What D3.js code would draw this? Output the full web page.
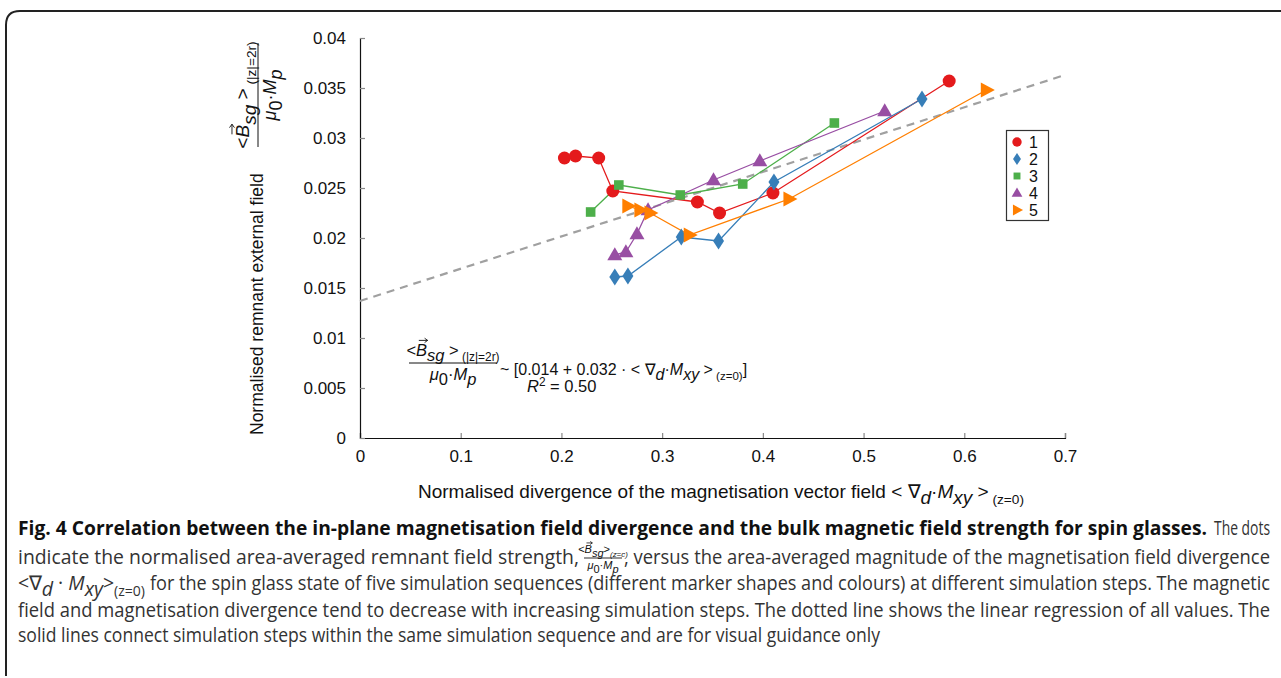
<!DOCTYPE html>
<html><head><meta charset="utf-8">
<script src="https://cdn.jsdelivr.net/npm/d3@7"></script>
<style>
html,body{margin:0;padding:0;background:#fff;}
svg{display:block;}
</style></head>
<body>
<svg id="c" width="1281" height="678"></svg>
<script>
// ---------------- DATA ----------------
const seriesNames = ["1","2","3","4","5"];
const s1x = [0.203,0.214,0.237,0.251,0.335,0.357,0.410,0.585];
const s1y = [0.0280,0.0282,0.0280,0.0247,0.0236,0.0225,0.0245,0.0357];
const s2x = [0.253,0.266,0.319,0.356,0.411,0.558];
const s2y = [0.0161,0.0162,0.0201,0.0197,0.0256,0.0339];
const s3x = [0.229,0.257,0.318,0.380,0.471];
const s3y = [0.0226,0.0253,0.0243,0.0254,0.0315];
const s4x = [0.253,0.264,0.275,0.286,0.351,0.397,0.521];
const s4y = [0.0183,0.0186,0.0204,0.0228,0.0258,0.0277,0.0327];
const s5x = [0.266,0.278,0.288,0.327,0.426,0.622];
const s5y = [0.0232,0.0228,0.0225,0.0203,0.0239,0.0348];
const regX = [0, 0.7];
const regY = [0.0137, 0.0363];
const xTicks = [0,0.1,0.2,0.3,0.4,0.5,0.6,0.7];
const xTickLabels = ["0","0.1","0.2","0.3","0.4","0.5","0.6","0.7"];
const yTicks = [0,0.005,0.01,0.015,0.02,0.025,0.03,0.035,0.04];
const yTickLabels = ["0","0.005","0.01","0.015","0.02","0.025","0.03","0.035","0.04"];
const colors = ["#e41a1c","#377eb8","#4daf4a","#984ea3","#ff7f00"];

// ---------------- SETUP ----------------
const svg = d3.select("#c");
const FONT = "'Liberation Sans', Arial, Helvetica, sans-serif";
const x = d3.scaleLinear().domain([0,0.7]).range([360,1065]);
const y = d3.scaleLinear().domain([0,0.04]).range([438,38]);

// frame
svg.append("path")
  .attr("d","M6,676 L6,25 Q6,11 20,11 L1281,11")
  .attr("fill","none").attr("stroke","#222").attr("stroke-width",2);

// axes
const gx = svg.append("g").attr("transform","translate(0,438)")
  .call(d3.axisBottom(x).tickValues(xTicks).tickSize(-5).tickPadding(12)
    .tickFormat((d,i)=>xTickLabels[i]));
const gy = svg.append("g").attr("transform","translate(360,0)")
  .call(d3.axisLeft(y).tickValues(yTicks).tickSize(-5).tickPadding(14)
    .tickFormat((d,i)=>yTickLabels[i]));
[gx,gy].forEach(g=>{
  g.select(".domain").attr("stroke","#111").attr("stroke-width",1.2);
  g.selectAll(".tick line").attr("stroke","#888").attr("stroke-width",1.2);
  g.selectAll(".tick text").attr("font-family",FONT).attr("font-size",17).attr("fill","#111");
});

// regression line
svg.append("path")
  .datum(regX.map((d,i)=>[d,regY[i]]))
  .attr("d", d3.line().x(d=>x(d[0])).y(d=>y(d[1])))
  .attr("fill","none").attr("stroke","#a0a0a0").attr("stroke-width",2.2)
  .attr("stroke-dasharray","8,6");

// series
const series = [[s1x,s1y],[s2x,s2y],[s3x,s3y],[s4x,s4y],[s5x,s5y]];
const line = d3.line().x(d=>x(d[0])).y(d=>y(d[1]));
series.forEach((s,k)=>{
  const pts = s[0].map((v,i)=>[v,s[1][i]]);
  svg.append("path").datum(pts).attr("d",line)
    .attr("fill","none").attr("stroke",colors[k]).attr("stroke-width",1.3);
});

function marker(g, k, cx, cy, sc){
  sc = sc||1;
  const c = colors[k];
  if(k===0){
    g.append("circle").attr("cx",cx).attr("cy",cy).attr("r",6.5*sc).attr("fill",c);
  } else if(k===1){
    const w=5.5*sc,h=8.5*sc;
    g.append("path").attr("d",`M${cx},${cy-h}L${cx+w},${cy}L${cx},${cy+h}L${cx-w},${cy}Z`).attr("fill",c);
  } else if(k===2){
    const a=4.8*sc;
    g.append("rect").attr("x",cx-a).attr("y",cy-a).attr("width",2*a).attr("height",2*a).attr("fill",c);
  } else if(k===3){
    const w=7.5*sc,h=13*sc;
    g.append("path").attr("d",`M${cx},${cy-h*0.6}L${cx+w},${cy+h*0.4}L${cx-w},${cy+h*0.4}Z`).attr("fill",c);
  } else {
    const w=14*sc,h=7.5*sc;
    g.append("path").attr("d",`M${cx+w*0.6},${cy}L${cx-w*0.4},${cy-h}L${cx-w*0.4},${cy+h}Z`).attr("fill",c);
  }
}
const gm = svg.append("g");
series.forEach((s,k)=>{
  s[0].forEach((v,i)=> marker(gm,k,x(v),y(s[1][i])));
});

// legend
const lg = svg.append("g");
lg.append("rect").attr("x",1006.5).attr("y",130.5).attr("width",42).attr("height",90)
  .attr("fill","#fff").attr("stroke","#333").attr("stroke-width",1.2);
seriesNames.forEach((n,k)=>{
  const yy = 142 + k*17;
  marker(lg,k,1017,yy,0.72);
  lg.append("text").attr("x",1029).attr("y",yy+5.5).text(n)
    .attr("font-family",FONT).attr("font-size",16).attr("fill","#111");
});

// ---------------- math helpers ----------------
function addParts(t, parts, size){
  let shift = 0;
  parts.forEach(p=>{
    const fs = p.s ? size*0.72 : size;
    const target = p.sub ? size*0.32 : (p.sup ? -size*0.38 : 0);
    const ts = t.append("tspan").text(p.t).attr("font-size",fs);
    if(target!==shift){ ts.attr("dy", target-shift); shift = target; }
    if(p.i) ts.attr("font-style","italic");
  });
}
function arrowOver(g, textNode, idx, size){
  const s = textNode.getStartPositionOfChar(idx);
  const e = textNode.getEndPositionOfChar(idx);
  const x0 = s.x + (e.x-s.x)*0.25, x1 = e.x + (e.x-s.x)*0.05;
  const yy = s.y - size*0.92;
  const ah = Math.max(1.5, size*0.13);
  g.append("path").attr("d",`M${x0},${yy}L${x1},${yy}M${x1-ah*1.4},${yy-ah}L${x1},${yy}L${x1-ah*1.4},${yy+ah}`)
    .attr("fill","none").attr("stroke","#111").attr("stroke-width",Math.min(0.9,size*0.07));
}
function fraction(g, cx, cy, numParts, denParts, size, lineW, bIdx, dsize){
  dsize = dsize || size;
  const tn = g.append("text").attr("x",cx).attr("y",cy-size*0.45).attr("text-anchor","middle")
    .attr("font-family",FONT).attr("fill","#111");
  addParts(tn, numParts, size);
  const td = g.append("text").attr("x",cx).attr("y",cy+dsize*1.0).attr("text-anchor","middle")
    .attr("font-family",FONT).attr("fill","#111");
  addParts(td, denParts, dsize);
  g.append("line").attr("x1",cx-lineW/2).attr("x2",cx+lineW/2).attr("y1",cy).attr("y2",cy)
    .attr("stroke","#111").attr("stroke-width",Math.min(1,size*0.08));
  if(bIdx!==undefined) arrowOver(g, tn.node(), bIdx, size);
}
const numB = [{t:"<"},{t:"B",i:1},{t:"sg",i:1,sub:1},{t:" >"},{t:" (|z|=2r)",s:1,sub:1}];
const denB = [{t:"\u03BC",i:1},{t:"0",sub:1},{t:"\u00B7"},{t:"M",i:1},{t:"p",i:1,sub:1}];

// y-axis label (rotated)
const yl = svg.append("g").attr("transform","translate(263,435) rotate(-90)");
yl.append("text").attr("x",0).attr("y",0).attr("font-family",FONT).attr("font-size",17.5)
  .attr("fill","#111").text("Normalised remnant external field");
fraction(yl, 340, -5, numB, denB, 19, 104, 1, 18);

// x-axis label
const xl = svg.append("text").attr("x",418).attr("y",498).attr("font-family",FONT).attr("fill","#111");
addParts(xl, [{t:"Normalised divergence of the magnetisation vector field < "},{t:"\u2207"},{t:"d",i:1,sub:1},
  {t:"\u00B7"},{t:"M",i:1},{t:"xy",i:1,sub:1},{t:" >"},{t:" (z=0)",s:1,sub:1}], 19);

// formula in plot
const fg = svg.append("g");
fraction(fg, 453, 363, numB, denB, 16.5, 88, 1);
const ft = fg.append("text").attr("x",500).attr("y",375).attr("font-family",FONT).attr("fill","#111");
addParts(ft, [{t:"~ [0.014 + 0.032 \u00B7 < "},{t:"\u2207"},{t:"d",i:1,sub:1},{t:"\u00B7"},{t:"M",i:1},
  {t:"xy",i:1,sub:1},{t:" >"},{t:" (z=0)",s:1,sub:1},{t:"]"}], 16);
const r2 = fg.append("text").attr("x",527).attr("y",392).attr("font-family",FONT).attr("fill","#111");
addParts(r2, [{t:"R",i:1},{t:"2",s:1,sup:1},{t:" = 0.50"}], 16.5);

// ---------------- caption ----------------
const CF = "'Open Sans', 'Noto Sans', sans-serif";
const cap = svg.append("g").attr("font-family",CF).attr("font-size",20).attr("fill","#333");
function capText(xx, yy, txt, w, bold){
  const t = cap.append("text").attr("x",xx).attr("y",yy).text(txt)
    .attr("textLength",w).attr("lengthAdjust","spacingAndGlyphs");
  if(bold) t.attr("font-weight","bold").attr("fill","#111");
  return t;
}
capText(18,535,"Fig. 4 Correlation between the in-plane magnetisation field divergence and the bulk magnetic field strength for spin glasses.",1189,true);
capText(1214,535,"The dots",56);
capText(18,564,"indicate the normalised area-averaged remnant field strength,",561);
// inline fraction
const cf = cap.append("g").attr("font-family",FONT);
fraction(cf, 603, 558, [{t:"<"},{t:"B",i:1},{t:"sg",i:1,sub:1},{t:">"},{t:"(z=c)",i:1,s:1,sub:1}],
  [{t:"\u03BC",i:1},{t:"0",sub:1},{t:"\u00B7"},{t:"M",i:1},{t:"p",i:1,sub:1}], 11, 38, 1);
capText(624,564,", versus the area-averaged magnitude of the magnetisation field divergence",646);
// line 3
const l3 = cap.append("text").attr("x",18).attr("y",590).attr("textLength",127).attr("lengthAdjust","spacingAndGlyphs");
addParts(l3,[{t:"<\u2207"},{t:"d",i:1,sub:1},{t:" \u00B7 "},{t:"M",i:1},{t:"xy",i:1,sub:1},{t:">"},{t:"(z=0)",s:1,sub:1}],20);
capText(150,590,"for the spin glass state of five simulation sequences (different marker shapes and colours) at different simulation steps. The magnetic",1120);
capText(18,617,"field and magnetisation divergence tend to decrease with increasing simulation steps. The dotted line shows the linear regression of all values. The",1252);
capText(18,642,"solid lines connect simulation steps within the same simulation sequence and are for visual guidance only",862);
</script>
</body></html>
